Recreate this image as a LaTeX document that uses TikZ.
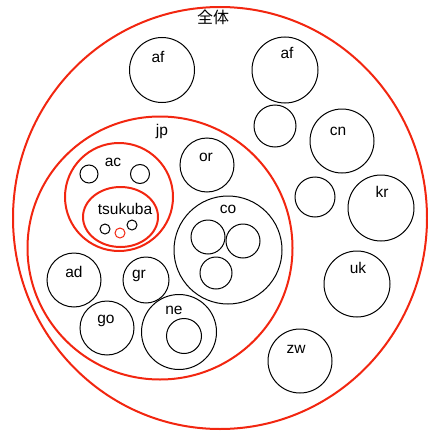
\documentclass[tikz,border=0pt]{standalone}
\usepackage{fontspec}
\setmainfont{Liberation Sans}
\newfontfamily\jpfont{Noto Sans CJK JP}
\usepackage{tikz}
\definecolor{setred}{RGB}{242,38,16}

\begin{document}
\begin{tikzpicture}[x=1pt, y=-1pt,
    every node/.style={font=\fontsize{15.5}{17}\selectfont, inner sep=0pt},
    ring/.style={draw=black, line width=1pt},
    redring/.style={draw=setred, line width=2pt}]
  \useasboundingbox (0,0) rectangle (428,431);
  % whole set
  \draw[redring] (220,218) ellipse (207 and 211);
  \node[font=\jpfont\fontsize{16}{18}\selectfont] (zentai) at (213,17) {全体};
  % outside jp
  \draw[ring] (162,70) circle (32.5);
  \node (af1) at (158,57) {af};
  \draw[ring] (285,70) circle (33);
  \node (af2) at (287,53) {af};
  \draw[ring] (275,126) circle (21);
  \draw[ring] (342,141) circle (32);
  \node (cn) at (338,131) {cn};
  \draw[ring] (315,197) circle (20);
  \draw[ring] (381,208) circle (33);
  \node (kr) at (382,192) {kr};
  \draw[ring] (357,284) circle (33);
  \node (uk) at (358,268) {uk};
  \draw[ring] (300,361) circle (32);
  \node (zw) at (296,349) {zw};
  % jp
  \draw[redring] (160,248) ellipse (132.5 and 131.5);
  \node (jp) at (162,131) {jp};
  % ac
  \draw[redring] (119,197) circle (54);
  \node (ac) at (113,162) {ac};
  \draw[ring] (89,174) circle (9);
  \draw[ring] (140,174) circle (9.5);
  % tsukuba
  \draw[redring] (120.5,217) ellipse (37.5 and 30);
  \node (tsukuba) at (125,209) {tsukuba};
  \draw[ring] (105,229) circle (5);
  \draw[ring] (132,225) circle (5);
  \draw[draw=setred, line width=1pt] (120,233) circle (5);
  % others in jp
  \draw[ring] (207,165) circle (27);
  \node (or) at (206,157) {or};
  \draw[ring] (228,250) circle (54);
  \node (co) at (228,209) {co};
  \draw[ring] (208,237) circle (17);
  \draw[ring] (243,241) circle (17);
  \draw[ring] (216,273) circle (16);
  \draw[ring] (74,280) circle (27);
  \node (ad) at (74,272) {ad};
  \draw[ring] (146,280) circle (23);
  \node (gr) at (139,276) {gr};
  \draw[ring] (107,328) circle (27);
  \node (go) at (106,321) {go};
  \draw[ring] (179,332) circle (37.5);
  \node (ne) at (174,310) {ne};
  \draw[ring] (184,336) circle (17.5);
\end{tikzpicture}
\end{document}
